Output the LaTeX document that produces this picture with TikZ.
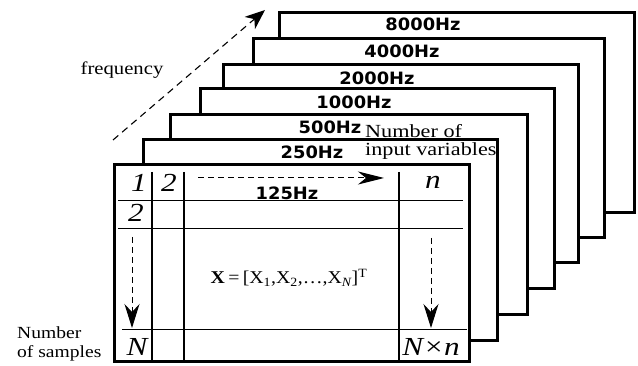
\documentclass[tikz,border=0pt]{standalone}
\usepackage{fontspec}
\setmainfont{Liberation Serif}
\setsansfont{DejaVu Sans}
\usetikzlibrary{arrows.meta}
\newcommand\hzlabel[1]{\scalebox{1.05}[1]{\fontsize{17}{17}\selectfont\sffamily\bfseries #1}}
\newcommand\serlabel[1]{\scalebox{1.15}[1]{\fontsize{18}{18}\selectfont #1}}
\newcommand\varlabel[1]{\scalebox{1.2}[1]{\fontsize{18.5}{18.5}\selectfont #1}}
\newcommand\itlabel[1]{\scalebox{1.2}[1]{\fontsize{26}{26}\selectfont\itshape #1}}
\tikzset{
  sheet/.style={draw, line width=3pt, fill=white},
  gridline/.style={line width=1pt},
  vline/.style={line width=1.3pt},
  harrow/.style={dashed, dash pattern=on 6pt off 4pt, line width=1pt,
    -{Stealth[length=26pt,width=13pt,inset=8pt]}},
  varrow/.style={dashed, dash pattern=on 6pt off 4pt, line width=1pt,
    -{Stealth[length=24pt,width=15pt,inset=8pt]}},
  freqarrow/.style={dashed, dash pattern=on 7pt off 5pt, line width=1.1pt,
    -{Stealth[length=20pt,width=16pt,inset=6pt]}},
  txt/.style={inner sep=0pt}
}
\begin{document}
\begin{tikzpicture}[x=1pt,y=-1pt]
\useasboundingbox (0,0) rectangle (638,366);
\fill[white] (0,0) rectangle (638,366);

% sheets back to front
\draw[sheet] (279,13) rectangle (634,213);
\node[txt] (l8000) at (423,24) {\hzlabel{8000Hz}};
\draw[sheet] (253,39) rectangle (604,238);
\node[txt] (l4000) at (402,51) {\hzlabel{4000Hz}};
\draw[sheet] (223,65) rectangle (578,263);
\node[txt] (l2000) at (377,78) {\hzlabel{2000Hz}};
\draw[sheet] (200,89) rectangle (554,289);
\node[txt] (l1000) at (354,102) {\hzlabel{1000Hz}};
\draw[sheet] (170,115) rectangle (527,315);
\node[txt] (l500) at (330,127) {\hzlabel{500Hz}};
\draw[sheet] (143,140) rectangle (497,341);
\node[txt] (l250) at (312,152) {\hzlabel{250Hz}};
\node[txt,anchor=west] (nvar1) at (365,131) {\varlabel{Number of}};
\node[txt,anchor=west] (nvar2) at (365,151) {\varlabel{input variables}};
\draw[sheet] (114,165) rectangle (469,362);

% front table grid
\draw[vline] (152,172) -- (152,362);
\draw[vline] (184,172) -- (184,362);
\draw[vline] (399,172) -- (399,362);
\draw[gridline] (118,201) -- (463,201);
\draw[gridline] (118,229) -- (463,229);
\draw[gridline] (122,330) -- (467,330);

% table texts
\node[txt] (c11) at (139,183) {\itlabel{1}};
\node[txt] (c12) at (169,183) {\itlabel{2}};
\node[txt] (c21) at (136,213) {\itlabel{2}};
\node[txt] (c1n) at (433,182) {\itlabel{n}};
\node[txt] (cN1) at (137,347) {\itlabel{N}};
\node[txt] (cNn) at (431,347) {\itlabel{N×n}};
\node[txt] (l125) at (287,193) {\hzlabel{125Hz}};
\node[txt] (formula) at (289,278) {\scalebox{1.1}[1]{\fontsize{18}{18}\selectfont
  \textbf{X}\,=\,[X\textsubscript{1},X\textsubscript{2},\dots,X\textsubscript{\itshape N}]\textsuperscript{T}}};

% arrows
\coordinate (ra) at (198,178);
\coordinate (rb) at (384,178);
\draw[harrow] (ra) -- (rb);
\coordinate (da) at (132,237);
\coordinate (db) at (132,328);
\draw[varrow] (da) -- (db);
\coordinate (ea) at (431,238);
\coordinate (eb) at (431,328);
\draw[varrow] (ea) -- (eb);
\coordinate (fa) at (113,140);
\coordinate (fb) at (265,10);
\draw[freqarrow] (fa) -- (fb);

% side labels
\node[txt] (freq) at (122,70) {\serlabel{frequency}};
\node[txt,anchor=west] (ns1) at (17,333) {\scalebox{1.15}[1]{\fontsize{17}{17}\selectfont Number}};
\node[txt,anchor=west] (ns2) at (17,353) {\scalebox{1.15}[1]{\fontsize{17}{17}\selectfont of samples}};
\end{tikzpicture}
\end{document}
